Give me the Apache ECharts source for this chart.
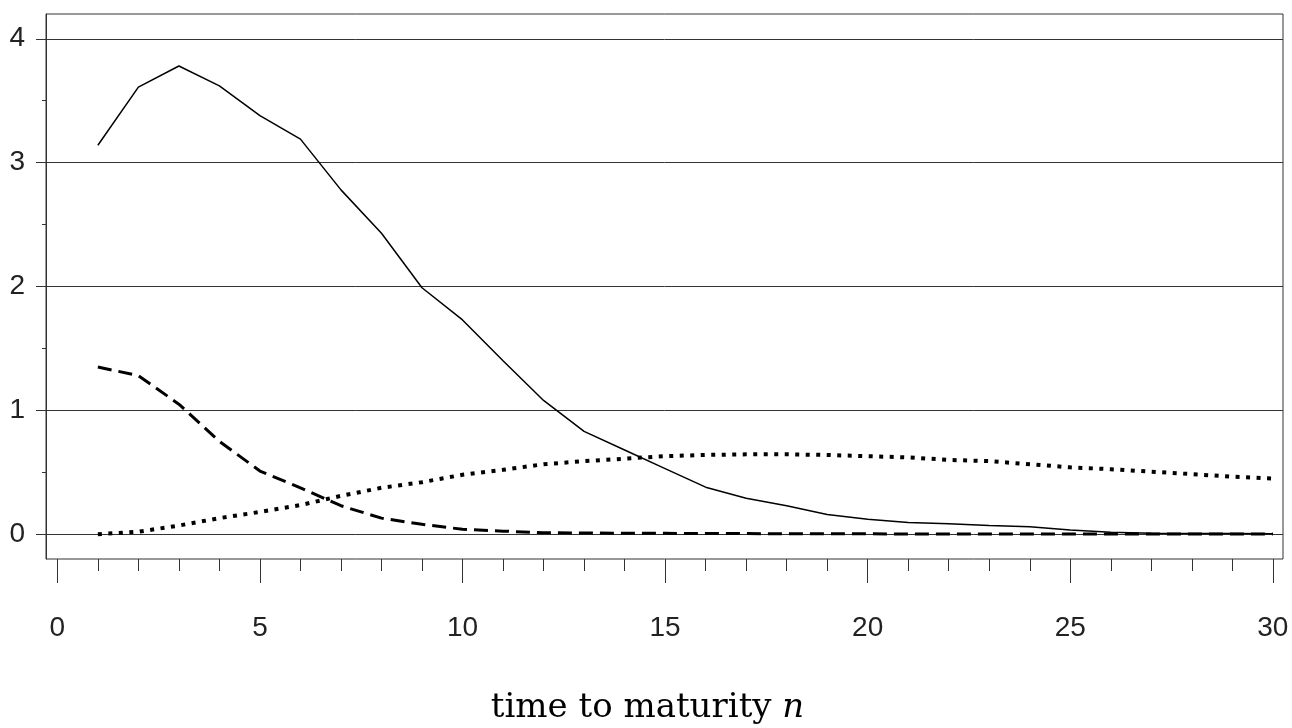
<!DOCTYPE html>
<html>
<head>
<meta charset="utf-8">
<script src="https://cdn.jsdelivr.net/npm/echarts@6/dist/echarts.min.js"></script>
<style>
html,body{margin:0;padding:0;background:#fff;}
#chart{width:1292px;height:728px;}
</style>
</head>
<body>
<div id="chart"></div>
<script>
const maturities = [1,2,3,4,5,6,7,8,9,10,11,12,13,14,15,16,17,18,19,20,21,22,23,24,25,26,27,28,29,30];
const solidValues = [3.14,3.61,3.78,3.62,3.38,3.19,2.78,2.43,1.99,1.73,1.40,1.08,0.83,0.68,0.53,0.38,0.29,0.23,0.16,0.12,0.095,0.085,0.07,0.06,0.035,0.015,0.008,0.006,0.005,0.003];
const dashedValues = [1.35,1.28,1.05,0.75,0.51,0.375,0.23,0.13,0.08,0.04,0.025,0.012,0.01,0.008,0.007,0.006,0.005,0.004,0.003,0.003,0.002,0.002,0.002,0.002,0.001,0.001,0.001,0.001,0.001,0.001];
const dottedValues = [0.0,0.02,0.07,0.13,0.18,0.235,0.31,0.375,0.42,0.48,0.52,0.565,0.59,0.61,0.63,0.64,0.645,0.645,0.64,0.63,0.62,0.60,0.59,0.565,0.54,0.525,0.505,0.485,0.465,0.45];
const xMajorTicks = [0,5,10,15,20,25,30];
const xMinorTicks = [1,2,3,4,6,7,8,9,11,12,13,14,16,17,18,19,21,22,23,24,26,27,28,29];
const yMajorTicks = [0,1,2,3,4];
const yMinorTicks = [0.5,1.5,2.5,3.5];
const xAxisTitle = 'time to maturity ';
const xAxisVar = 'n';

const toPairs = vals => maturities.map((m, i) => [m, vals[i]]);
const XMIN = -0.28, XMAX = 30.25, YMIN = -0.2, YMAX = 4.2;
const axisColor = '#333';
const labelFont = {fontFamily: 'Liberation Sans', fontSize: 28, color: '#222'};

const chart = echarts.init(document.getElementById('chart'), null, {renderer: 'canvas'});
chart.setOption({
  animation: false,
  backgroundColor: '#fff',
  grid: {
    left: 46, right: 9, top: 14, bottom: 169,
    containLabel: false, outerBoundsMode: 'none',
    show: true, borderColor: axisColor, borderWidth: 1, backgroundColor: 'transparent'
  },
  xAxis: [
    {
      type: 'value', min: XMIN, max: XMAX, position: 'bottom',
      axisLine: {show: false, onZero: false},
      axisTick: {show: true, customValues: xMajorTicks, length: 24, lineStyle: {color: axisColor, width: 1}},
      axisLabel: Object.assign({show: true, customValues: xMajorTicks, margin: 55}, labelFont),
      splitLine: {show: false},
      name: '{a|' + xAxisTitle + '}{b|' + xAxisVar + '}',
      nameLocation: 'middle', nameGap: 132,
      nameTextStyle: {
        padding: [0, 34, 0, 0],
        rich: {
          a: {fontFamily: 'DejaVu Serif', fontSize: 34, color: '#000'},
          b: {fontFamily: 'DejaVu Serif', fontSize: 34, fontStyle: 'italic', color: '#000'}
        }
      }
    },
    {
      type: 'value', min: XMIN, max: XMAX, position: 'bottom',
      axisLine: {show: false, onZero: false},
      axisTick: {show: true, customValues: xMinorTicks, length: 12, lineStyle: {color: axisColor, width: 1}},
      axisLabel: {show: false},
      splitLine: {show: false}
    }
  ],
  yAxis: [
    {
      type: 'value', min: YMIN, max: YMAX, position: 'left',
      axisLine: {show: true, onZero: false, lineStyle: {color: axisColor, width: 1}},
      axisTick: {show: true, customValues: yMajorTicks, length: 10, lineStyle: {color: axisColor, width: 1}},
      axisLabel: Object.assign({show: true, customValues: yMajorTicks, margin: 21}, labelFont),
      splitLine: {show: true, lineStyle: {color: axisColor, width: 1}}
    },
    {
      type: 'value', min: YMIN, max: YMAX, position: 'left',
      axisLine: {show: false, onZero: false},
      axisTick: {show: true, customValues: yMinorTicks, length: 4, lineStyle: {color: axisColor, width: 1}},
      axisLabel: {show: false},
      splitLine: {show: false}
    }
  ],
  series: [
    {
      type: 'line', xAxisIndex: 0, yAxisIndex: 0, data: toPairs(solidValues),
      symbol: 'none', lineStyle: {color: '#000', width: 1.5}
    },
    {
      type: 'line', xAxisIndex: 0, yAxisIndex: 0, data: toPairs(dashedValues),
      symbol: 'none', lineStyle: {color: '#000', width: 3, type: [14, 7], cap: 'butt'}
    },
    {
      type: 'line', xAxisIndex: 0, yAxisIndex: 0, data: toPairs(dottedValues),
      symbol: 'none', lineStyle: {color: '#000', width: 4, type: [4, 6.5], cap: 'butt'}
    }
  ]
});
</script>
</body>
</html>
